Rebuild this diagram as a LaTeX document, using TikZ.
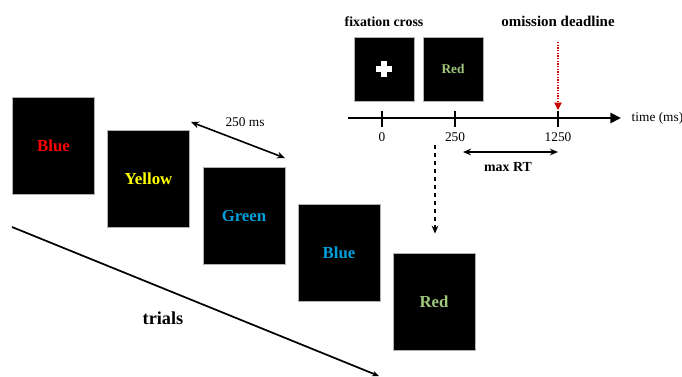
\documentclass[tikz,border=0pt]{standalone}
\usepackage{fontspec}
\setmainfont{Liberation Serif}
\usetikzlibrary{arrows.meta, positioning, calc}
\definecolor{wordred}{RGB}{255, 0, 0}
\definecolor{wordyellow}{RGB}{255, 255, 0}
\definecolor{wordblue}{RGB}{0, 158, 218}
\definecolor{wordgreen}{RGB}{160, 200, 125}
\definecolor{deadred}{RGB}{200, 0, 0}

\begin{document}
\begin{tikzpicture}[
    x=0.75pt, y=-0.75pt,
    screen/.style={draw=gray!60, fill=black, line width=0.6pt, inner sep=0pt,
                   minimum width=61.5pt, minimum height=72.75pt,
                   font=\fontsize{12.6}{14}\selectfont\bfseries},
    miniscreen/.style={screen, minimum width=45pt, minimum height=48pt,
                       font=\fontsize{10}{12}\selectfont\bfseries},
    heading/.style={font=\fontsize{10.4}{12}\selectfont\bfseries},
    plain/.style={font=\fontsize{10}{12}\selectfont},
    twoway/.style={line width=1.2pt,
                   {Stealth[length=6pt, width=5pt]}-{Stealth[length=6pt, width=5pt]}}
  ]
    \useasboundingbox (0,0) rectangle (682,376);
    % Urutan layar percobaan, tiap langkah bergeser kira-kira (95, 39).
    \node[screen, text=wordred]    (s1) at (53.5,146)   {Blue};
    \node[screen, text=wordyellow] (s2) at (148.5,178.5) {Yellow};
    \node[screen, text=wordblue]   (s3) at (244,216)    {Green};
    \node[screen, text=wordblue]   (s4) at (339,252.5)  {Blue};
    \node[screen, text=wordgreen]  (s5) at (434,301.5)  {Red};
    \coordinate (gapA) at (191,122);
    \coordinate (gapB) at (285,158);
    \draw[twoway] (gapA) -- (gapB);
    \node[plain] (gaplabel) at (245,122) {250 ms};
    \coordinate (trialA) at (12,227);
    \coordinate (trialB) at (379,376);
    \draw[line width=1.3pt, -{Stealth[length=5pt, width=4pt]}] (trialA) -- (trialB);
    \node[font=\fontsize{13.7}{16}\selectfont\bfseries] (trials) at (163,318) {trials};
    % Garis waktu di kanan atas.
    \node[heading] (fixlabel) at (384,21.7) {fixation cross};
    \node[heading, font=\fontsize{11.2}{13}\selectfont\bfseries]
      (omitlabel) at (558,21.7) {omission deadline};
    \node[miniscreen] (fix) at (384,69) {};
    \draw[white, line width=4pt] ($(fix.center)+(-8,0)$) -- ($(fix.center)+(8,0)$);
    \draw[white, line width=4pt] ($(fix.center)+(0,-8)$) -- ($(fix.center)+(0,8)$);
    \node[miniscreen, text=wordgreen] (word) at (453,69) {Red};
    \coordinate (axisL) at (348,118);
    \coordinate (axisR) at (621,118);
    \draw[line width=2pt, -{Triangle[length=8pt, width=7.5pt]}] (axisL) -- (axisR);
    \node[plain, anchor=west] (axislabel) at (627,118) {time (ms)};
    \draw[line width=0.8pt] (382,111) -- (382,127);
    \draw[line width=0.8pt] (455,111) -- (455,127);
    \draw[line width=0.8pt] (558,111) -- (558,127);
    \node[plain] (t0)    at (382,137) {0};
    \node[plain] (t250)  at (455,137) {250};
    \node[plain] (t1250) at (558,137) {1250};
    \coordinate (deadA) at (558,42);
    \coordinate (deadB) at (558,110);
    \draw[deadred, line width=0.8pt, dash pattern=on 1pt off 1pt,
          -{Triangle[length=5.5pt, width=5.5pt]}] (deadA) -- (deadB);
    \coordinate (rtA) at (463,152);
    \coordinate (rtB) at (558,152);
    \draw[twoway] (rtA) -- (rtB);
    \node[heading] (rtlabel) at (508,167) {max RT};
    \coordinate (dropA) at (435,145);
    \draw[line width=1.1pt, dashed, -{Stealth[length=6pt, width=5pt]}]
      (dropA) -- ($(s5.north)+(1,-19)$);
  \end{tikzpicture}
\end{document}
